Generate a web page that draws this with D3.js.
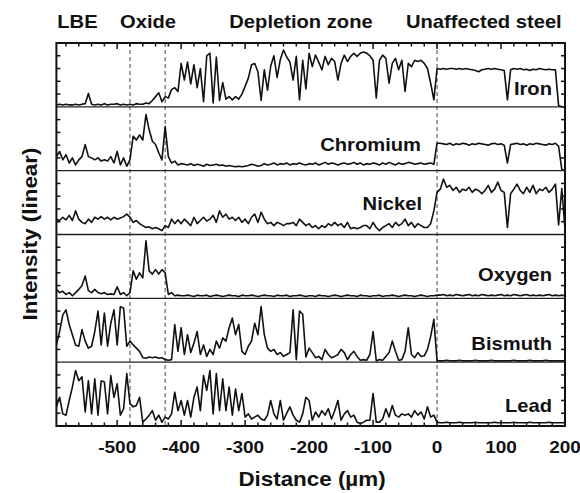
<!DOCTYPE html>
<html><head><meta charset="utf-8">
<script src="https://cdn.jsdelivr.net/npm/d3@7"></script>
<style>body{margin:0;background:#fff}svg{display:block}</style>
</head><body><svg id="c" width="580" height="493"></svg>
<script>
// ---- data (intensity, % of panel height), sampled every 5 µm from -595 to 200 µm ----
const distStart = -595, distStep = 5;
const elements = ["Iron", "Chromium", "Nickel", "Oxygen", "Bismuth", "Lead"];
const iron = [
 3,4,3,4,3,3,4,3,4,5,21,4,3,4,3,5,3,4,4,5,
 3,4,3,4,3,5,4,4,6,5,10,16,22,8,16,14,27,30,24,68,
 42,70,36,66,30,60,8,80,84,6,78,10,38,12,16,11,16,12,20,32,
 45,66,68,55,10,58,26,64,80,46,74,89,78,70,42,79,11,73,28,84,
 63,81,70,58,79,66,76,71,42,68,81,71,79,84,79,84,86,84,80,73,
 14,73,81,76,37,68,76,58,73,24,68,63,73,71,73,68,60,37,11,60,
 59,60,59,60,60,59,60,59,60,59,58,57,55,58,59,60,59,60,59,58,
 57,11,58,60,59,60,58,59,57,59,58,60,59,58,59,58,58,2,0,0];
const chromium = [
 22,30,17,25,12,20,9,17,22,41,22,20,17,20,15,17,15,22,12,30,
 9,20,7,17,54,48,56,48,88,64,46,41,28,17,69,22,12,15,9,11,
 10,9,11,8,10,9,7,10,8,9,10,8,9,7,8,7,6,7,6,7,
 8,10,9,7,8,11,9,10,12,9,11,10,12,9,11,10,12,10,9,11,
 10,12,9,11,13,10,12,11,9,11,12,10,11,13,10,12,9,11,10,12,
 11,9,12,10,13,11,9,12,10,11,13,12,10,11,12,10,11,12,10,43,
 43,42,41,43,40,42,41,43,42,40,42,41,43,42,41,40,42,43,41,42,
 40,12,41,42,43,41,42,40,42,41,43,42,41,40,42,41,43,38,2,0];
const nickel = [
 24,22,27,23,30,22,37,24,19,17,24,19,27,24,28,24,27,23,27,24,
 26,28,32,27,19,22,17,14,11,12,9,11,9,6,14,11,24,17,23,17,
 24,19,14,27,17,22,27,21,24,30,19,37,27,32,24,27,22,27,19,24,
 17,27,32,19,35,24,17,19,14,19,17,14,17,17,19,14,24,19,14,17,
 11,14,9,14,11,17,14,19,14,17,11,19,9,11,9,11,14,14,9,19,
 11,6,11,14,17,11,19,14,17,24,14,19,11,17,14,11,11,17,37,66,
 71,87,74,77,69,74,66,71,69,74,66,71,69,64,69,77,66,71,82,69,
 66,11,64,71,79,69,64,74,66,77,64,71,69,74,66,71,79,15,72,8];
const oxygen = [
 14,9,11,6,9,4,9,14,20,35,12,9,14,9,7,9,6,7,6,18,
 6,9,4,9,43,30,40,32,90,43,38,45,38,45,40,6,9,4,5,4,
 4,5,4,3,5,4,4,5,3,4,5,4,3,4,5,4,4,3,5,4,
 4,5,4,3,4,5,4,4,3,5,4,4,5,3,4,4,5,4,3,4,
 4,3,5,4,4,3,4,5,4,3,4,5,4,4,3,5,4,4,3,4,
 4,5,3,4,4,5,4,3,4,5,4,4,3,4,5,4,3,4,4,5,
 5,6,4,5,4,6,5,4,5,6,4,5,4,6,5,4,5,4,5,6,
 4,5,4,6,5,4,5,6,4,5,4,5,4,5,6,4,5,4,5,4];
const bismuth = [
 27,48,74,82,59,43,27,25,51,33,22,25,48,80,27,77,25,61,82,27,
 87,85,25,33,27,22,17,7,6,8,7,8,6,7,4,3,4,59,17,54,
 12,43,15,30,48,12,27,9,20,12,33,22,38,33,54,69,43,59,17,12,
 25,33,61,43,87,43,22,17,20,12,15,9,12,15,82,4,80,75,8,22,
 15,7,9,4,20,12,7,9,12,20,15,4,12,17,9,3,4,3,12,48,
 2,4,3,9,15,33,17,3,4,17,54,12,7,15,9,10,20,40,67,2,
 2,2,3,2,2,2,3,2,2,2,2,3,2,2,2,2,3,2,2,2,
 2,2,2,3,2,2,2,2,3,2,2,2,2,3,2,2,2,2,2,2];
const lead = [
 30,45,19,17,40,61,87,71,77,22,71,19,74,17,71,69,19,79,45,66,
 17,27,82,35,30,32,45,6,11,17,24,9,17,6,14,11,19,53,24,40,
 17,40,14,45,61,24,79,56,87,19,82,24,74,24,61,17,58,24,51,14,
 19,11,14,17,11,9,17,40,19,11,40,9,20,30,17,9,6,19,45,40,
 9,22,14,24,17,27,11,24,40,9,19,24,14,17,6,4,6,9,9,51,
 6,6,11,27,14,32,17,14,19,17,19,14,24,17,22,11,30,14,17,6,
 5,5,6,5,5,5,6,5,5,5,5,6,5,5,5,5,5,6,5,5,
 5,5,5,6,5,5,5,5,6,5,5,5,5,5,6,5,5,5,5,5];
const seriesValues = [iron, chromium, nickel, oxygen, bismuth, lead];
const zoneLabels = ["LBE", "Oxide", "Depletion zone", "Unaffected steel"];
const zoneBoundaries = [-480, -425, 0];
const xTickValues = [-500, -400, -300, -200, -100, 0, 100, 200];
const xTickLabels = ["-500", "-400", "-300", "-200", "-100", "0", "100", "200"];
const xTitle = "Distance (µm)";
const yTitle = "Intensity (linear)";

// ---- layout ----
const svg = d3.select("#c");
const L = 56.4, R = 565, T = 43, B = 426;
const FONT = "'Liberation Sans', Arial, Helvetica, sans-serif";
const SX = 1.12;
const x = d3.scaleLinear().domain([-595, 200]).range([L, R]);
const panelH = (B - T) / elements.length;

svg.append("defs").append("clipPath").attr("id", "clip")
  .append("rect").attr("x", L).attr("y", T).attr("width", R - L).attr("height", B - T);

// dashed zone boundaries
svg.append("g").selectAll("line").data(zoneBoundaries).join("line")
  .attr("x1", d => x(d)).attr("x2", d => x(d)).attr("y1", T).attr("y2", B)
  .attr("stroke", "#444").attr("stroke-width", 1).attr("stroke-dasharray", "4,3");

// traces
const g = svg.append("g").attr("clip-path", "url(#clip)");
seriesValues.forEach((vals, k) => {
  const y = d3.scaleLinear().domain([0, 100]).range([T + panelH * (k + 1), T + panelH * k]);
  const line = d3.line().x((d, i) => x(distStart + i * distStep)).y(d => y(d));
  g.append("path").datum(vals).attr("d", line)
    .attr("fill", "none").attr("stroke", "#111").attr("stroke-width", 1.6)
    .attr("stroke-linejoin", "round");
});

// panel separators
for (let k = 1; k < elements.length; k++) {
  const yy = T + panelH * k;
  svg.append("line").attr("x1", L).attr("x2", R).attr("y1", yy).attr("y2", yy)
    .attr("stroke", "#222").attr("stroke-width", 1.3);
}
// y ticks left/right for each panel
elements.forEach((e, k) => {
  const y = d3.scaleLinear().domain([0, 100]).range([T + panelH * (k + 1), T + panelH * k]);
  [20, 40, 60, 80].forEach(v => {
    svg.append("line").attr("x1", L).attr("x2", L + 4).attr("y1", y(v)).attr("y2", y(v))
      .attr("stroke", "#111").attr("stroke-width", 1.5);
    svg.append("line").attr("x1", R - 4).attr("x2", R).attr("y1", y(v)).attr("y2", y(v))
      .attr("stroke", "#111").attr("stroke-width", 1.5);
  });
});
// x ticks top and bottom (inward)
d3.range(-580, 200, 20).forEach(v => {
  const len = (v % 100 === 0) ? 6 : 3.5;
  svg.append("line").attr("x1", x(v)).attr("x2", x(v)).attr("y1", T).attr("y2", T + len)
    .attr("stroke", "#111").attr("stroke-width", 1.5);
  svg.append("line").attr("x1", x(v)).attr("x2", x(v)).attr("y1", B).attr("y2", B - len)
    .attr("stroke", "#111").attr("stroke-width", 1.5);
});
// frame
svg.append("rect").attr("x", L).attr("y", T).attr("width", R - L).attr("height", B - T)
  .attr("fill", "none").attr("stroke", "#111").attr("stroke-width", 2);

function txt(str, tx, ty, size, anchor, rot) {
  svg.append("text")
    .attr("transform", `translate(${tx},${ty})` + (rot ? ` rotate(${rot})` : "") + ` scale(${SX},1)`)
    .attr("text-anchor", anchor).attr("font-family", FONT).attr("font-weight", "bold")
    .attr("font-size", size).attr("fill", "#111").text(str);
}
// tick labels
xTickValues.forEach((v, i) => txt(xTickLabels[i], x(v), 453, 17, "middle"));
// titles
txt(xTitle, 312, 486, 20, "middle");
txt(yTitle, 37, 234, 20, "middle", -90);
// zone headers
const zoneX = [57.3, 120, 229.3, 406];
zoneLabels.forEach((z, i) => txt(z, zoneX[i], 27.5, 18, "start"));
// panel labels
const labelPos = [[552, 94.5, "end"], [421, 151, "end"], [422, 210, "end"],
                  [552, 280.5, "end"], [552, 350, "end"], [552, 411.5, "end"]];
elements.forEach((e, k) => txt(e, labelPos[k][0], labelPos[k][1], 18, labelPos[k][2]));
</script></body></html>
